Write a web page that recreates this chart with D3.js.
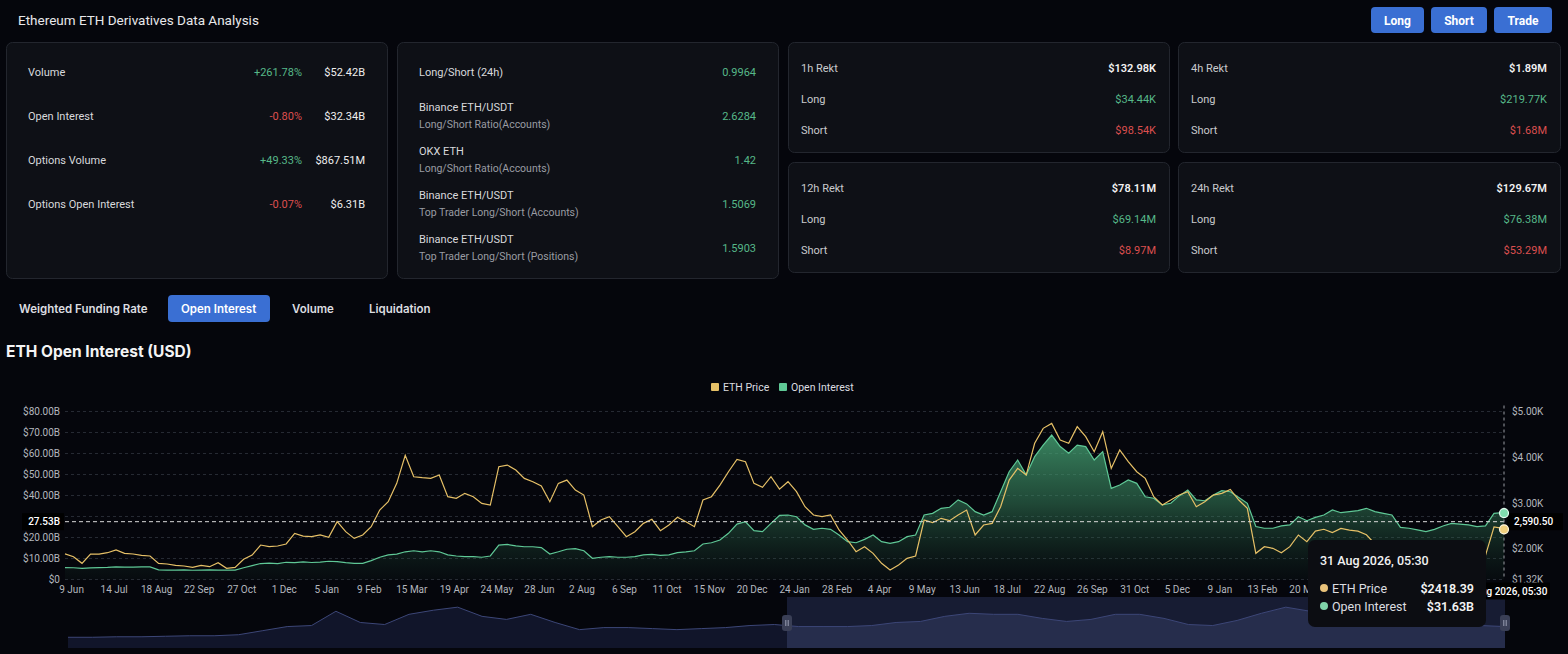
<!DOCTYPE html>
<html>
<head>
<meta charset="utf-8">
<script src="https://cdn.jsdelivr.net/npm/d3@7"></script>
<style>
  body { margin: 0; background: #05060c; overflow: hidden; }
  svg { display: block; font-family: Roboto, "Noto Sans", sans-serif; }
</style>
</head>
<body>
<script>
// ---- panel data ----
var overviewLabels = ["Volume", "Open Interest", "Options Volume", "Options Open Interest"]
var overviewChanges = ["+261.78%", "-0.80%", "+49.33%", "-0.07%"]
var overviewValues = ["$52.42B", "$32.34B", "$867.51M", "$6.31B"]

var ratioTitles = ["Long/Short (24h)", "Binance ETH/USDT", "OKX ETH", "Binance ETH/USDT", "Binance ETH/USDT"]
var ratioSubtitles = ["", "Long/Short Ratio(Accounts)", "Long/Short Ratio(Accounts)", "Top Trader Long/Short (Accounts)", "Top Trader Long/Short (Positions)"]
var ratioValues = ["0.9964", "2.6284", "1.42", "1.5069", "1.5903"]

var rektPeriods = ["1h Rekt", "4h Rekt", "12h Rekt", "24h Rekt"]
var rektTotals = ["$132.98K", "$1.89M", "$78.11M", "$129.67M"]
var rektLongs = ["$34.44K", "$219.77K", "$69.14M", "$76.38M"]
var rektShorts = ["$98.54K", "$1.68M", "$8.97M", "$53.29M"]

var tabs = ["Weighted Funding Rate", "Open Interest", "Volume", "Liquidation"]
var actionButtons = ["Long", "Short", "Trade"]

// ---- chart data (weekly) ----
var weekDates = [
  "2023-06-04","2023-06-11","2023-06-18","2023-06-25","2023-07-02","2023-07-09","2023-07-16","2023-07-23","2023-07-30",
  "2023-08-06","2023-08-13","2023-08-20","2023-08-27","2023-09-03","2023-09-10","2023-09-17","2023-09-24","2023-10-01",
  "2023-10-08","2023-10-15","2023-10-22","2023-10-29","2023-11-05","2023-11-12","2023-11-19","2023-11-26","2023-12-03",
  "2023-12-10","2023-12-17","2023-12-24","2023-12-31",
  "2024-01-07","2024-01-14","2024-01-21","2024-01-28","2024-02-04","2024-02-11","2024-02-18","2024-02-25","2024-03-03",
  "2024-03-10","2024-03-17","2024-03-24","2024-03-31","2024-04-07","2024-04-14","2024-04-21","2024-04-28","2024-05-05",
  "2024-05-12","2024-05-19","2024-05-26","2024-06-02","2024-06-09","2024-06-16","2024-06-23","2024-06-30","2024-07-07",
  "2024-07-14","2024-07-21","2024-07-28","2024-08-04","2024-08-11","2024-08-18","2024-08-25","2024-09-01","2024-09-08",
  "2024-09-15","2024-09-22","2024-09-29","2024-10-06","2024-10-13","2024-10-20","2024-10-27","2024-11-03","2024-11-10",
  "2024-11-17","2024-11-24","2024-12-01","2024-12-08","2024-12-15","2024-12-22","2024-12-29",
  "2025-01-05","2025-01-12","2025-01-19","2025-01-26","2025-02-02","2025-02-09","2025-02-16","2025-02-23","2025-03-02",
  "2025-03-09","2025-03-16","2025-03-23","2025-03-30","2025-04-06","2025-04-13","2025-04-20","2025-04-27","2025-05-04",
  "2025-05-11","2025-05-18","2025-05-25","2025-06-01","2025-06-08","2025-06-15","2025-06-22","2025-06-29","2025-07-06",
  "2025-07-13","2025-07-20","2025-07-27","2025-08-03","2025-08-10","2025-08-17","2025-08-24","2025-08-31","2025-09-07",
  "2025-09-14","2025-09-21","2025-09-28","2025-10-05","2025-10-12","2025-10-19","2025-10-26","2025-11-02","2025-11-09",
  "2025-11-16","2025-11-23","2025-11-30","2025-12-07","2025-12-14","2025-12-21","2025-12-28",
  "2026-01-04","2026-01-11","2026-01-18","2026-01-25","2026-02-01","2026-02-08","2026-02-15","2026-02-22","2026-03-01",
  "2026-03-08","2026-03-15","2026-03-22","2026-03-29","2026-04-05","2026-04-12","2026-04-19","2026-04-26","2026-05-03",
  "2026-05-10","2026-05-17","2026-05-24","2026-05-31","2026-06-07","2026-06-14","2026-06-21","2026-06-28","2026-07-05",
  "2026-07-12","2026-07-19","2026-07-26","2026-08-02","2026-08-09","2026-08-16","2026-08-23","2026-08-30"
]
var lastStamp = "2026-08-31 05:30"

// ETH price, USD
var ethPrice = [
  1880,1820,1674,1878,1878,1907,1966,1893,1878,1850,1835,1674,1660,1630,1616,1586,1630,1600,1688,1565,
  1586,1762,1856,2075,2039,2054,2098,2331,2272,2258,2295,
  2243,2587,2368,2221,2295,2477,2842,3024,3426,4040,3570,3550,3535,3608,3134,3097,3207,3134,2988,2951,
  3790,3827,3717,3535,3462,3367,3024,3426,3498,3280,3170,2477,2623,2696,2477,2258,2368,2550,2638,2390,
  2514,2682,2587,2477,3061,3134,3389,3681,3951,3900,3426,3338,
  3571,3300,3462,3243,2915,2733,2696,2733,2404,2185,1929,2039,1893,1674,1528,1637,1783,1835,2623,2565,
  2660,2609,2733,2842,2295,2514,2550,2915,3498,3754,3608,4303,4631,4740,4376,4303,4668,4449,4120,4558,
  3754,4157,3900,3681,3535,3134,2951,3061,3170,3243,2915,3024,
  3170,3207,3294,3061,2879,1893,2039,2003,1907,2039,2295,2149,2380,2420,2350,2440,2400,2380,2300,2100,
  2050,1980,2000,1950,1900,1940,1880,1850,1820,1800,1780,1760,1850,2470,2440,
  2418.39
]

// Open interest, billions USD
var openInterest = [
  5.7,5.6,5.3,5.5,5.7,5.8,6.0,5.9,5.9,6.0,6.0,4.6,4.5,4.5,4.6,4.4,4.5,4.6,4.5,4.5,
  4.5,5.6,6.6,7.6,7.8,7.6,8.2,8.0,8.4,8.1,8.3,
  8.7,8.5,8.0,7.7,7.7,9.0,10.6,11.7,12.1,13.2,13.7,13.2,13.7,13.2,11.7,11.2,10.9,10.9,10.6,11.2,
  16.4,16.7,16.0,15.6,15.6,15.2,12.1,13.2,14.4,14.7,13.7,10.1,10.6,10.9,10.6,10.6,10.9,11.7,12.0,11.5,
  11.7,12.8,13.2,13.7,16.9,17.5,18.8,22.0,26.4,27.5,23.3,22.8,
  26.7,30.5,30.7,29.9,26.0,23.9,24.4,23.9,21.2,18.0,17.5,19.1,21.2,18.0,17.2,18.0,20.4,21.2,30.7,31.5,
  33.9,34.4,37.9,36.0,32.3,30.7,32.3,41.8,51.3,56.9,49.8,58.5,64.0,68.8,63.3,60.1,64.0,63.3,56.9,60.9,
  43.4,45.0,47.4,45.8,39.4,38.7,35.5,36.3,39.8,42.6,37.9,37.5,
  40.2,42.3,41.8,39.1,36.3,25.2,24.4,24.4,25.5,26.0,29.9,28.0,29.6,30.7,33.1,31.8,32.3,32.8,33.9,32.3,
  31.5,30.7,24.8,24.4,23.6,22.8,23.9,25.5,26.7,26.4,26.0,25.2,25.5,31.5,31.8,
  31.63
]

// overview strip under the chart (relative level)
var navigatorValues = [
  10.5,10.5,11,11,11.5,12,12,13,17,21,22,36,25,23,33,37,40,31,28,33,
  25,18,20,20,19,18,19,20,22,23,21,21,21,22,25,26,31,34,33,33,
  29,26,28,33,33,29,23,22,27,34,40,36,32,30,28,26,24,23,22,21
]

// date labels that are not covered by the tooltip
var xTickDates = [
  "2023-06-09","2023-07-14","2023-08-18","2023-09-22","2023-10-27","2023-12-01","2024-01-05","2024-02-09",
  "2024-03-15","2024-04-19","2024-05-24","2024-06-28","2024-08-02","2024-09-06","2024-10-11","2024-11-15",
  "2024-12-20","2025-01-24","2025-02-28","2025-04-04","2025-05-09","2025-06-13","2025-07-18","2025-08-22",
  "2025-09-26","2025-10-31","2025-12-05","2026-01-09","2026-02-13","2026-03-20"
]
var oiGrid = [0, 10, 20, 30, 40, 50, 60, 70, 80]
var oiLabels = [0, 10, 20, 40, 50, 60, 70, 80]   // $30.00B sits under the cursor label
var priceTicks = [1320, 2000, 3000, 4000, 5000]
var cursorOI = 27.53
var cursorPrice = 2590.50

// ---- setup ----
var W = 1568, H = 654
var GREEN = "#56b889", RED = "#dc4f4f", BLUE = "#3a6fd3"
var ETH_C = "#e6c067", OI_C = "#5fc896"

var svg = d3.select("body").append("svg").attr("width", W).attr("height", H)
var defs = svg.append("defs")

function panel(x, y, w, h) {
  svg.append("rect").attr("x", x + 0.5).attr("y", y + 0.5).attr("width", w).attr("height", h)
    .attr("rx", 6).attr("fill", "#0e1016").attr("stroke", "#23262e")
}
function txt(g, x, y, s, opts) {
  opts = opts || {}
  return g.append("text").attr("x", x).attr("y", y).text(s)
    .attr("fill", opts.fill || "#d6d7da")
    .attr("font-size", opts.size || 11)
    .attr("font-weight", opts.weight || 400)
    .attr("text-anchor", opts.anchor || "start")
    .style("font-family", opts.family || null)
}
function signColor(s) { return s.charAt(0) === "-" ? RED : GREEN }

// header
txt(svg, 18, 25, "Ethereum ETH Derivatives Data Analysis", { size: 13.5, fill: "#e8e8ea", weight: 400 })

var btnX = [1371, 1431, 1494], btnW = [53, 56, 58]
actionButtons.forEach(function(b, i) {
  svg.append("rect").attr("x", btnX[i]).attr("y", 7).attr("width", btnW[i]).attr("height", 26)
    .attr("rx", 4).attr("fill", BLUE)
  txt(svg, btnX[i] + btnW[i] / 2, 24.5, b, { size: 12, weight: 700, fill: "#fff", anchor: "middle" })
})

// overview panel
panel(6, 42, 381, 236)
overviewLabels.forEach(function(l, i) {
  var y = 76 + 44 * i
  txt(svg, 28, y, l, { fill: "#d8d9dc" })
  txt(svg, 302, y, overviewChanges[i], { fill: signColor(overviewChanges[i]), anchor: "end" })
  txt(svg, 365, y, overviewValues[i], { fill: "#eeeeee", anchor: "end" })
})

// ratio panel
panel(397, 42, 381, 236)
ratioTitles.forEach(function(t, i) {
  if (i === 0) {
    txt(svg, 419, 76, t, { fill: "#d8d9dc" })
    txt(svg, 756, 76, ratioValues[i], { fill: GREEN, anchor: "end" })
    return
  }
  var base = 111 + 44 * (i - 1)
  txt(svg, 419, base, t, { fill: "#d8d9dc" })
  txt(svg, 419, base + 17, ratioSubtitles[i], { fill: "#9a9ca3", size: 10.5 })
  txt(svg, 756, base + 9, ratioValues[i], { fill: GREEN, anchor: "end" })
})

// rekt panels
var rektBox = [[788, 42, 381], [1178, 42, 382], [788, 162, 381], [1178, 162, 382]]
rektPeriods.forEach(function(p, i) {
  var b = rektBox[i]
  panel(b[0], b[1], b[2], 110)
  var r = b[0] + b[2] - 13
  txt(svg, b[0] + 13, b[1] + 30, p, { fill: "#c9cacd" })
  txt(svg, r, b[1] + 30, rektTotals[i], { fill: "#f2f2f2", anchor: "end", weight: 600 })
  txt(svg, b[0] + 13, b[1] + 61, "Long", { fill: "#c9cacd" })
  txt(svg, r, b[1] + 61, rektLongs[i], { fill: GREEN, anchor: "end" })
  txt(svg, b[0] + 13, b[1] + 92, "Short", { fill: "#c9cacd" })
  txt(svg, r, b[1] + 92, rektShorts[i], { fill: RED, anchor: "end" })
})

// tabs
var tabX = [19, 181, 292, 369]
svg.append("rect").attr("x", 168).attr("y", 295).attr("width", 102).attr("height", 27).attr("rx", 4).attr("fill", BLUE)
tabs.forEach(function(t, i) {
  txt(svg, tabX[i], 312.5, t, { size: 11.5, weight: 600, fill: i === 1 ? "#fff" : "#dcdde0", family: "Inter" })
})

txt(svg, 6, 357, "ETH Open Interest (USD)", { size: 15.5, weight: 700, fill: "#f4f4f5", family: "Inter" })

// legend
var leg = svg.append("g").attr("transform", "translate(711,383)")
leg.append("rect").attr("width", 8).attr("height", 8).attr("rx", 1).attr("fill", ETH_C)
txt(leg, 12, 7.5, "ETH Price", { size: 10.5, fill: "#dcdde0" })
leg.append("rect").attr("x", 68).attr("width", 8).attr("height", 8).attr("rx", 1).attr("fill", OI_C)
txt(leg, 80, 7.5, "Open Interest", { size: 10.5, fill: "#dcdde0" })

// ---- main chart ----
var parseDay = d3.timeParse("%Y-%m-%d")
var parseStamp = d3.timeParse("%Y-%m-%d %H:%M")
var rows = weekDates.map(function(d, i) {
  return { date: parseDay(d), price: ethPrice[i], oi: openInterest[i] }
})
rows.push({ date: parseStamp(lastStamp), price: ethPrice[ethPrice.length - 1], oi: openInterest[openInterest.length - 1] })

var plotL = 65, plotR = 1504, plotT = 411.5, plotB = 579.5
var x = d3.scaleTime().domain([rows[0].date, rows[rows.length - 1].date]).range([plotL, plotR])
var yOI = d3.scaleLinear().domain([0, 80]).range([plotB, plotT])
var yPrice = d3.scaleLinear().domain([1320, 5000]).range([plotB, plotT])

// grid
svg.append("g").selectAll("line").data(oiGrid).enter().append("line")
  .attr("x1", plotL).attr("x2", plotR)
  .attr("y1", function(d) { return yOI(d) }).attr("y2", function(d) { return yOI(d) })
  .attr("stroke", "#262a33").attr("stroke-dasharray", "3,3")

// area gradient
var grad = defs.append("linearGradient").attr("id", "oiFill")
  .attr("gradientUnits", "userSpaceOnUse").attr("x1", 0).attr("x2", 0).attr("y1", plotT).attr("y2", plotB)
grad.append("stop").attr("offset", "0").attr("stop-color", "#4fb883").attr("stop-opacity", 0.85)
grad.append("stop").attr("offset", "0.55").attr("stop-color", "#3a8a61").attr("stop-opacity", 0.5)
grad.append("stop").attr("offset", "1").attr("stop-color", "#1d4a35").attr("stop-opacity", 0.08)

svg.append("path").datum(rows)
  .attr("fill", "url(#oiFill)")
  .attr("d", d3.area().x(function(d) { return x(d.date) }).y0(plotB).y1(function(d) { return yOI(d.oi) }))
svg.append("path").datum(rows)
  .attr("fill", "none").attr("stroke", OI_C).attr("stroke-width", 1.2)
  .attr("d", d3.line().x(function(d) { return x(d.date) }).y(function(d) { return yOI(d.oi) }))
svg.append("path").datum(rows)
  .attr("fill", "none").attr("stroke", ETH_C).attr("stroke-width", 1.2)
  .attr("d", d3.line().x(function(d) { return x(d.date) }).y(function(d) { return yPrice(d.price) }))

// axes
var axisLeft = svg.append("g").attr("transform", "translate(" + (plotL - 1) + ",0)")
  .call(d3.axisLeft(yOI).tickValues(oiLabels).tickSize(0).tickPadding(4)
    .tickFormat(function(v) { return v === 0 ? "$0" : "$" + v.toFixed(2) + "B" }))
var axisRight = svg.append("g").attr("transform", "translate(" + (plotR + 4) + ",0)")
  .call(d3.axisRight(yPrice).tickValues(priceTicks).tickSize(0).tickPadding(4)
    .tickFormat(function(v) { return "$" + (v / 1000).toFixed(2) + "K" }))
var axisBottom = svg.append("g").attr("transform", "translate(0," + plotB + ")")
  .call(d3.axisBottom(x).tickValues(xTickDates.map(parseDay)).tickSize(0).tickPadding(6)
    .tickFormat(d3.timeFormat("%-d %b")))
;[axisLeft, axisRight, axisBottom].forEach(function(a) {
  a.select(".domain").remove()
  a.selectAll("text").attr("fill", "#b4b7be").attr("font-size", 10).style("font-family", "Roboto")
})

// navigator
var navTop = 597, navBottom = 648, navL = 68, navR = 1505, selL = 787
var nx = d3.scaleLinear().domain([0, navigatorValues.length - 1]).range([navL, navR])
var ny = d3.scaleLinear().domain([0, 48]).range([navBottom, navTop + 2])
var navArea = d3.area().x(function(d, i) { return nx(i) }).y0(navBottom).y1(function(d) { return ny(d) })
var navLine = d3.line().x(function(d, i) { return nx(i) }).y(function(d) { return ny(d) })
defs.append("clipPath").attr("id", "selClip").append("rect")
  .attr("x", selL).attr("y", navTop).attr("width", navR - selL).attr("height", navBottom - navTop)
svg.append("path").datum(navigatorValues).attr("fill", "#11152a").attr("d", navArea)
svg.append("rect").attr("x", selL).attr("y", navTop).attr("width", navR - selL).attr("height", navBottom - navTop)
  .attr("fill", "#171c33")
svg.append("path").datum(navigatorValues).attr("clip-path", "url(#selClip)").attr("fill", "#262d4c").attr("d", navArea)
svg.append("path").datum(navigatorValues).attr("fill", "none").attr("stroke", "#3c4677").attr("stroke-width", 1).attr("d", navLine)
;[selL, navR].forEach(function(hx) {
  var h = svg.append("g").attr("transform", "translate(" + hx + ",623)")
  h.append("rect").attr("x", -5).attr("y", -8).attr("width", 10).attr("height", 16).attr("rx", 3).attr("fill", "#3a3f56")
  h.append("line").attr("x1", -1.2).attr("x2", -1.2).attr("y1", -3).attr("y2", 3).attr("stroke", "#9aa0b4")
  h.append("line").attr("x1", 1.2).attr("x2", 1.2).attr("y1", -3).attr("y2", 3).attr("stroke", "#9aa0b4")
})

// crosshair
var last = rows[rows.length - 1]
var cx = x(last.date), cy = yOI(cursorOI)
svg.append("line").attr("x1", plotL).attr("x2", cx).attr("y1", cy).attr("y2", cy)
  .attr("stroke", "#d9d9d9").attr("stroke-dasharray", "4,3")
svg.append("line").attr("x1", cx).attr("x2", cx).attr("y1", plotT - 6).attr("y2", plotB)
  .attr("stroke", "#9a9ca3").attr("stroke-dasharray", "3,3")

svg.append("rect").attr("x", 22).attr("y", cy - 8.5).attr("width", 42).attr("height", 17).attr("fill", "#000")
txt(svg, 60, cy + 3.5, cursorOI.toFixed(2) + "B", { size: 10, fill: "#fff", anchor: "end", weight: 500 })
svg.append("rect").attr("x", plotR + 3).attr("y", cy - 8.5).attr("width", 56).attr("height", 17).attr("fill", "#000")
txt(svg, plotR + 10, cy + 3.5, d3.format(",.2f")(cursorPrice), { size: 10, fill: "#fff", weight: 500 })

var stampFmt = d3.timeFormat("%-d %b %Y, %H:%M")
svg.append("rect").attr("x", cx - 46).attr("y", plotB + 3).attr("width", 92).attr("height", 17).attr("fill", "#000")
txt(svg, cx, plotB + 15, stampFmt(last.date), { size: 10, fill: "#fff", anchor: "middle", weight: 500 })

svg.append("circle").attr("cx", cx).attr("cy", yOI(last.oi)).attr("r", 4.5)
  .attr("fill", "#7fdcae").attr("stroke", "#e8fff4").attr("stroke-width", 1.2)
svg.append("circle").attr("cx", cx).attr("cy", yPrice(last.price)).attr("r", 4.5)
  .attr("fill", "#f0cf7e").attr("stroke", "#fff6de").attr("stroke-width", 1.2)

// tooltip
var tip = svg.append("g").attr("transform", "translate(1308,540)")
tip.append("rect").attr("width", 178).attr("height", 87).attr("rx", 7).attr("fill", "#0c0d12")
txt(tip, 12, 25, stampFmt(last.date), { size: 12.5, fill: "#f2f2f2", weight: 500 })
var tipRows = [
  { name: "ETH Price", color: "#e9c27a", value: "$" + last.price.toFixed(2) },
  { name: "Open Interest", color: "#7fd3a8", value: "$" + last.oi.toFixed(2) + "B" }
]
tipRows.forEach(function(r, i) {
  var yy = 48 + 18 * i
  tip.append("circle").attr("cx", 16).attr("cy", yy).attr("r", 4).attr("fill", r.color)
  txt(tip, 24, yy + 4.5, r.name, { size: 12.5, fill: "#dcdde0" })
  txt(tip, 166, yy + 4.5, r.value, { size: 12.5, fill: "#f4f4f4", anchor: "end", weight: 600 })
})
</script>
</body>
</html>
